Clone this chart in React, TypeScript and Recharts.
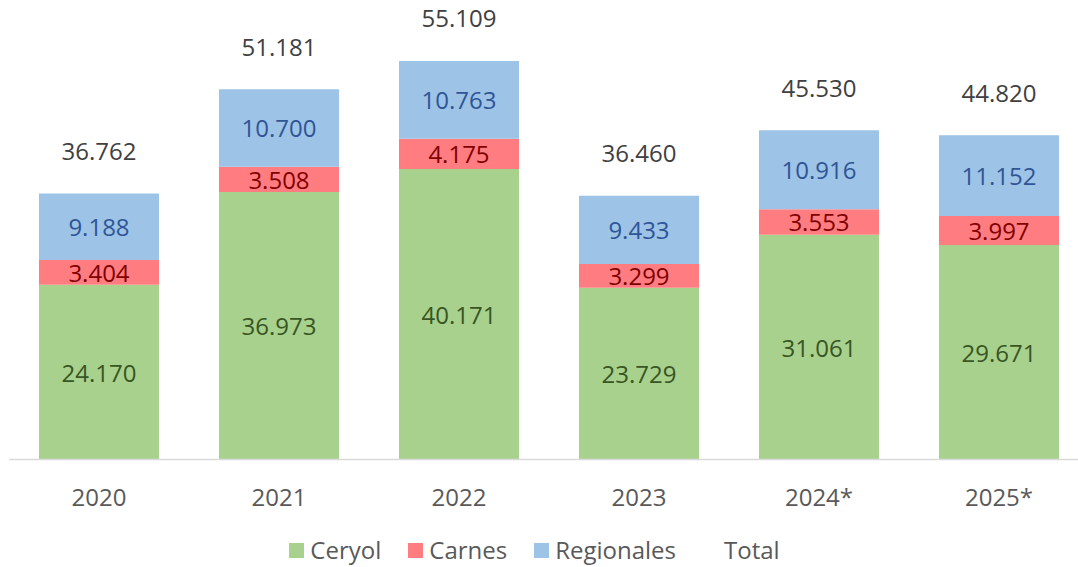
import { Bar, BarChart, LabelList, XAxis, YAxis } from "recharts";

const years = ["2020", "2021", "2022", "2023", "2024*", "2025*"];
const ceryol = [24170, 36973, 40171, 23729, 31061, 29671];
const carnes = [3404, 3508, 4175, 3299, 3553, 3997];
const regionales = [9188, 10700, 10763, 9433, 10916, 11152];
const totals = [36762, 51181, 55109, 36460, 45530, 44820];

const data = years.map((year, i) => ({
  year,
  ceryol: ceryol[i],
  carnes: carnes[i],
  regionales: regionales[i],
  total: totals[i],
}));

const FONT = "'Open Sans', sans-serif";
const fmt = (n: number) => String(n).replace(/\B(?=(\d{3})+(?!\d))/g, ".");

const inside = (color: string) => (props: any) => {
  const { x, y, width, height, value } = props;
  return (
    <text
      x={x + width / 2}
      y={y + height / 2}
      textAnchor="middle"
      dominantBaseline="central"
      fill={color}
      fontSize={24}
      fontFamily={FONT}
    >
      {fmt(value)}
    </text>
  );
};

const totalLabel = (props: any) => {
  const { x, y, width, value } = props;
  return (
    <text
      x={x + width / 2}
      y={y - 43}
      textAnchor="middle"
      dominantBaseline="central"
      fill="#404040"
      fontSize={24}
      fontFamily={FONT}
    >
      {fmt(value)}
    </text>
  );
};

const YearTick = (props: any) => {
  const { x, y, payload } = props;
  return (
    <text
      x={x}
      y={y + 37}
      textAnchor="middle"
      dominantBaseline="central"
      fill="#595959"
      fontSize={24}
      fontFamily={FONT}
    >
      {payload.value}
    </text>
  );
};

const legendItems = [
  { name: "Ceryol", color: "#A9D18E" },
  { name: "Carnes", color: "#FF7C80" },
  { name: "Regionales", color: "#9DC3E6" },
  { name: "Total", color: "transparent" },
];

export default function App() {
  return (
    <div
      style={{
        position: "absolute",
        left: 0,
        top: 0,
        width: 1078,
        height: 567,
        overflow: "hidden",
        background: "#fff",
      }}
    >
      <BarChart
        width={1089}
        height={567}
        data={data}
        margin={{ top: 25.5, right: 0, left: 9, bottom: 77.5 }}
        barSize={120}
      >
        <XAxis
          dataKey="year"
          height={30}
          axisLine={{ stroke: "#D9D9D9", strokeWidth: 1.5 }}
          tickLine={false}
          tickSize={0}
          tickMargin={0}
          tick={<YearTick />}
          interval={0}
        />
        <YAxis hide domain={[0, 60000]} />
        <Bar dataKey="ceryol" stackId="a" fill="#A9D18E" isAnimationActive={false}>
          <LabelList dataKey="ceryol" content={inside("#375623")} />
        </Bar>
        <Bar dataKey="carnes" stackId="a" fill="#FF7C80" isAnimationActive={false}>
          <LabelList dataKey="carnes" content={inside("#7F0000")} />
        </Bar>
        <Bar dataKey="regionales" stackId="a" fill="#9DC3E6" isAnimationActive={false}>
          <LabelList dataKey="regionales" content={inside("#2F5597")} />
          <LabelList dataKey="total" content={totalLabel} />
        </Bar>
      </BarChart>
      <div
        style={{
          position: "absolute",
          left: 0,
          top: 536,
          width: 1069,
          display: "flex",
          justifyContent: "center",
          gap: 27,
          fontFamily: FONT,
          fontSize: 24,
          color: "#595959",
          lineHeight: "28px",
        }}
      >
        {legendItems.map((it) => (
          <div key={it.name} style={{ display: "flex", alignItems: "center", gap: 6 }}>
            <span style={{ width: 15, height: 15, background: it.color, display: "inline-block" }} />
            <span>{it.name}</span>
          </div>
        ))}
      </div>
    </div>
  );
}
